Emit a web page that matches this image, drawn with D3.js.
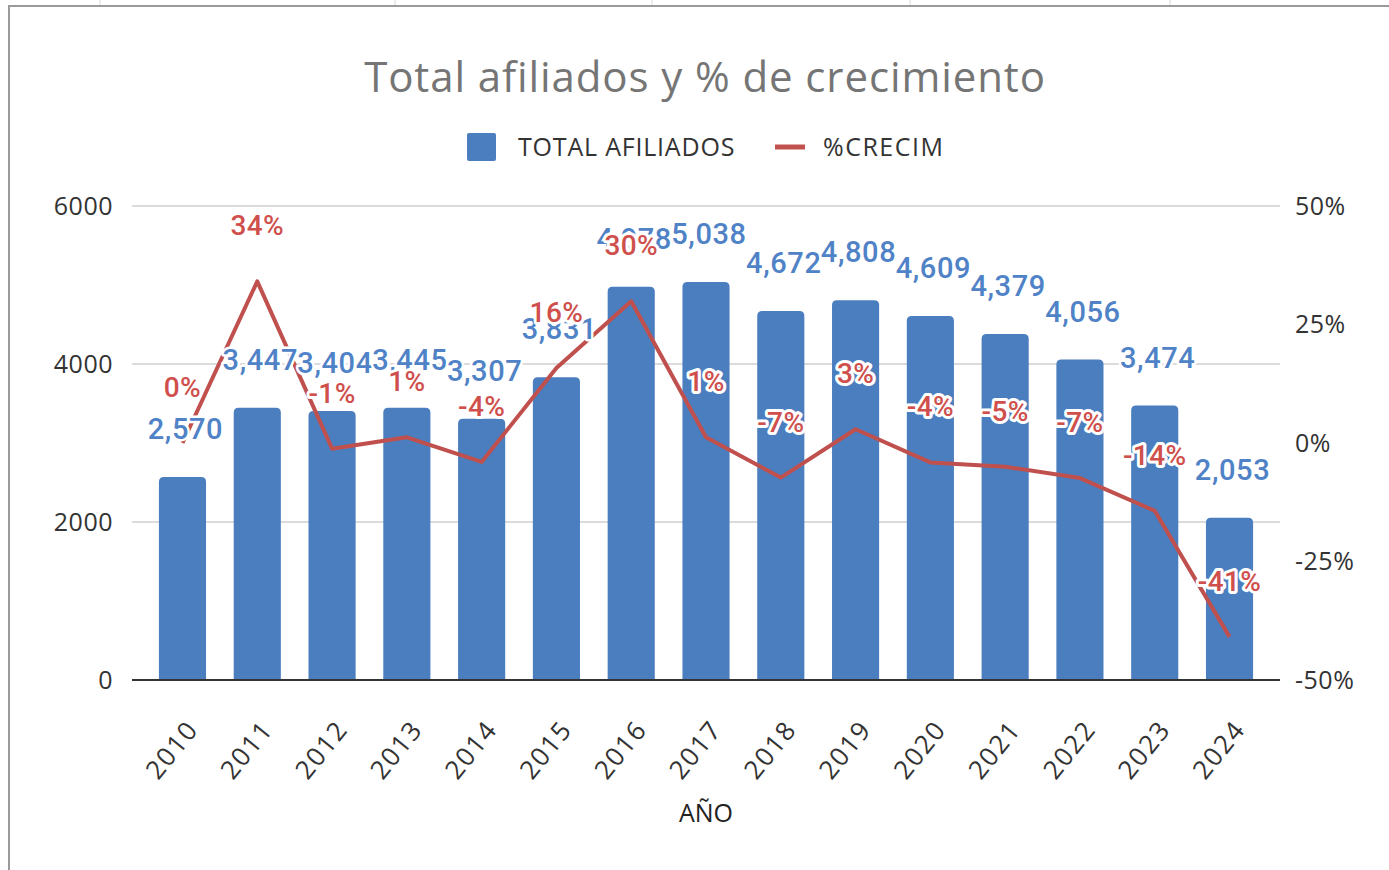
<!DOCTYPE html>
<html>
<head>
<meta charset="utf-8">
<script src="https://cdn.jsdelivr.net/npm/d3@7"></script>
<style>
  body { margin: 0; background: #fff; }
  svg { display: block; }
</style>
</head>
<body>
<svg width="1389" height="870"></svg>
<script>
// data
const years = ["2010","2011","2012","2013","2014","2015","2016","2017","2018","2019","2020","2021","2022","2023","2024"]
const afiliados = [2570, 3447, 3404, 3445, 3307, 3831, 4978, 5038, 4672, 4808, 4609, 4379, 4056, 3474, 2053]
const crecim = [0, 34.1, -1.2, 1.2, -4.0, 15.8, 29.9, 1.2, -7.3, 2.9, -4.1, -5.0, -7.4, -14.3, -40.9]
const leftTicks = [0, 2000, 4000, 6000]
const rightTicks = [-50, -25, 0, 25, 50]

const blue = "#4a7ebf"
const blueLabel = "#4f82c6"
const red = "#c0504d"
const redLabel = "#cf4f4c"
const axisFont = "'Open Sans', sans-serif"
const labelFont = "Roboto, sans-serif"

let svg = d3.select("svg")

// chart frame (spreadsheet screenshot)
svg.append("rect")
  .attr("x", 9).attr("y", 6)
  .attr("width", 1420).attr("height", 900)
  .attr("fill", "#fff")
  .attr("stroke", "#9a9a9a")
  .attr("stroke-width", 2)

// faint sheet grid above the chart
;[100, 395, 652, 910, 1170].forEach(x => {
  svg.append("line").attr("x1", x).attr("x2", x).attr("y1", 0).attr("y2", 5)
    .attr("stroke", "#d8d8d8")
})

const x = d3.scaleBand()
  .domain(years)
  .range([132, 1280])
  .paddingInner(0.37)
  .paddingOuter(0.36)

const yL = d3.scaleLinear().domain([0, 6000]).range([680, 206])
const yR = d3.scaleLinear().domain([-50, 50]).range([680, 206])

// title
svg.append("text")
  .attr("x", 705).attr("y", 92)
  .attr("text-anchor", "middle")
  .attr("font-family", axisFont)
  .attr("font-size", "42px")
  .attr("letter-spacing", "0.9px")
  .attr("fill", "#757575")
  .text("Total afiliados y % de crecimiento")

// legend
let leg = svg.append("g")
leg.append("rect").attr("x", 467).attr("y", 133).attr("width", 29).attr("height", 28)
  .attr("rx", 2).attr("fill", blue)
leg.append("text").attr("x", 518).attr("y", 156)
  .attr("font-family", axisFont).attr("font-size", "25px").attr("letter-spacing", "0.8px").attr("fill", "#333")
  .text("TOTAL AFILIADOS")
leg.append("line").attr("x1", 775).attr("x2", 805).attr("y1", 147).attr("y2", 147)
  .attr("stroke", red).attr("stroke-width", 5)
leg.append("text").attr("x", 823).attr("y", 156)
  .attr("font-family", axisFont).attr("font-size", "25px").attr("letter-spacing", "1.5px").attr("fill", "#333")
  .text("%CRECIM")

// gridlines
svg.append("g")
  .selectAll("line")
  .data(leftTicks.filter(d => d > 0))
  .join("line")
  .attr("x1", 132).attr("x2", 1280)
  .attr("y1", d => yL(d)).attr("y2", d => yL(d))
  .attr("stroke", "#cfcfcf")
  .attr("stroke-width", 1.5)

// left axis
let leftAxis = svg.append("g")
  .attr("transform", "translate(132,0)")
  .call(d3.axisLeft(yL).tickValues(leftTicks).tickSize(0).tickPadding(19).tickFormat(d3.format("d")))
leftAxis.select(".domain").remove()
leftAxis.selectAll("text")
  .attr("font-family", axisFont).attr("font-size", "25px").attr("letter-spacing", "0.5px").attr("fill", "#333")

// right axis
let rightAxis = svg.append("g")
  .attr("transform", "translate(1280,0)")
  .call(d3.axisRight(yR).tickValues(rightTicks).tickSize(0).tickPadding(15).tickFormat(d => d + "%"))
rightAxis.select(".domain").remove()
rightAxis.selectAll("text")
  .attr("font-family", axisFont).attr("font-size", "25px").attr("letter-spacing", "0.5px").attr("fill", "#333")

// bars
svg.append("g")
  .selectAll("path")
  .data(years)
  .join("path")
  .attr("fill", blue)
  .attr("d", (d, i) => {
    let x0 = x(d), w = x.bandwidth(), y0 = yL(afiliados[i]), r = 5
    return "M" + x0 + "," + yL(0) + "V" + (y0 + r) + "Q" + x0 + "," + y0 + " " + (x0 + r) + "," + y0 +
      "H" + (x0 + w - r) + "Q" + (x0 + w) + "," + y0 + " " + (x0 + w) + "," + (y0 + r) + "V" + yL(0) + "Z"
  })

// baseline
svg.append("line")
  .attr("x1", 132).attr("x2", 1280)
  .attr("y1", yL(0)).attr("y2", yL(0))
  .attr("stroke", "#333").attr("stroke-width", 2)

// x axis labels
let xAxis = svg.append("g")
  .attr("transform", "translate(0," + yL(0) + ")")
  .call(d3.axisBottom(x).tickSize(0).tickPadding(0))
xAxis.select(".domain").remove()
xAxis.selectAll("text")
  .attr("font-family", axisFont).attr("font-size", "26px").attr("letter-spacing", "1.5px").attr("fill", "#333")
  .attr("text-anchor", "end")
  .attr("dy", "0")
  .attr("transform", "translate(17,50) rotate(-51)")

svg.append("text")
  .attr("x", 706).attr("y", 822)
  .attr("text-anchor", "middle")
  .attr("font-family", axisFont).attr("font-size", "25px").attr("fill", "#222")
  .text("AÑO")

// growth line
const line = d3.line()
  .x((d, i) => x(years[i]) + x.bandwidth() / 2)
  .y(d => yR(d))
  .curve(d3.curveLinear)

svg.append("path")
  .datum(crecim)
  .attr("d", line)
  .attr("fill", "none")
  .attr("stroke", red)
  .attr("stroke-width", 4)
  .attr("stroke-linejoin", "round")

// bar labels
svg.append("g")
  .selectAll("text")
  .data(afiliados)
  .join("text")
  .attr("x", (d, i) => x(years[i]) + x.bandwidth() / 2 + 3)
  .attr("y", d => yL(d) - 38)
  .attr("text-anchor", "middle")
  .attr("font-family", labelFont).attr("font-size", "29px").attr("font-weight", 500)
  .attr("letter-spacing", "0.6px")
  .attr("fill", blueLabel)
  .attr("stroke", "#fff").attr("stroke-width", 5).attr("paint-order", "stroke")
  .attr("stroke-linejoin", "round")
  .text(d => d3.format(",")(d))

// percent labels
svg.append("g")
  .selectAll("text")
  .data(crecim)
  .join("text")
  .attr("x", (d, i) => x(years[i]) + x.bandwidth() / 2)
  .attr("y", d => yR(d) - 46)
  .attr("text-anchor", "middle")
  .attr("font-family", labelFont).attr("font-size", "28px").attr("font-weight", 500)
  .attr("letter-spacing", "0.4px")
  .attr("fill", redLabel)
  .attr("stroke", "#fff").attr("stroke-width", 6).attr("paint-order", "stroke")
  .attr("stroke-linejoin", "round")
  .text(d => Math.round(d) + "%")
</script>
</body>
</html>
